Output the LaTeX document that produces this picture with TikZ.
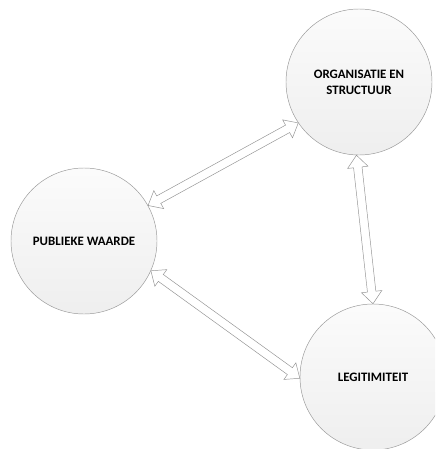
\documentclass[tikz,border=0pt]{standalone}
\usepackage{fontspec}
\setmainfont{Carlito}
\usetikzlibrary{calc, shapes.arrows}
\tikzset{
topic/.style = {circle, draw=gray!80, minimum size=4.38cm, inner sep=0pt, align=center, font=\bfseries\fontsize{11}{13.6}\selectfont, top color=gray!3, bottom color=gray!13},
link/.style = {double arrow, draw=gray!85, fill=white, inner xsep=0pt, inner ysep=0.12cm, double arrow head extend=0.18cm, double arrow tip angle=80}
}
\begin{document}
\begin{tikzpicture}[x=0.03cm, y=-0.03cm]
\clip (0,0) rectangle (435,449);
\fill[white] (0,0) rectangle (435,449);

\node (org) [topic] at (359,82) {ORGANISATIE EN\\STRUCTUUR};
\node (pw) [topic] at (84,241) {PUBLIEKE WAARDE};
\node (leg) [topic] at (373,377) {LEGITIMITEIT};

\path let \p1=($(org.214)-(pw.29)$), \n1={atan2(\y1,\x1)}, \n2={veclen(\x1,\y1)} in
  node [link, rotate=\n1, minimum height=\n2] at ($(pw.29)!0.5!(org.214)$) {};
\path let \p1=($(leg.90)-(org.268)$), \n1={atan2(\y1,\x1)}, \n2={veclen(\x1,\y1)} in
  node [link, rotate=\n1, minimum height=\n2] at ($(org.268)!0.5!(leg.90)$) {};
\path let \p1=($(leg.181)-(pw.-24)$), \n1={atan2(\y1,\x1)}, \n2={veclen(\x1,\y1)} in
  node [link, rotate=\n1, minimum height=\n2] at ($(pw.-24)!0.5!(leg.181)$) {};

\end{tikzpicture}
\end{document}
